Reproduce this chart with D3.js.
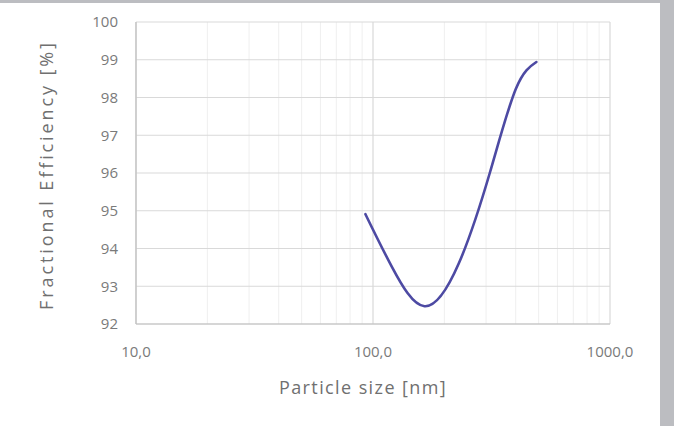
<!DOCTYPE html>
<html>
<head>
<meta charset="utf-8">
<script src="https://cdn.jsdelivr.net/npm/d3@7"></script>
<style>
  body { margin: 0; background: #fff; }
  svg { display: block; }
</style>
</head>
<body>
<svg id="chart" width="674" height="426"></svg>
<script>
// particle size [nm] and fractional efficiency [%]
const sizes = [92.9, 120, 165, 230, 311, 400, 489];
const efficiency = [94.91, 93.52, 92.47, 93.6, 96.0, 98.22, 98.94];
const yTicks = [92, 93, 94, 95, 96, 97, 98, 99, 100];
const xTicks = [10, 100, 1000];

const svg = d3.select('#chart');
const W = 674, H = 426;
const margin = { top: 22, right: 64, bottom: 102, left: 136 };
const innerWidth = W - margin.left - margin.right;
const innerHeight = H - margin.top - margin.bottom;

// grey frame of the screenshot
svg.append('rect').attr('x', 0).attr('y', 0).attr('width', W).attr('height', 3).attr('fill', '#bcbdc1');
svg.append('rect').attr('x', 660).attr('y', 0).attr('width', 14).attr('height', H).attr('fill', '#bcbdc1');

const x = d3.scaleLog().domain([10, 1000]).range([0, innerWidth]);
const y = d3.scaleLinear().domain([92, 100]).range([innerHeight, 0]);

const g = svg.append('g').attr('transform', `translate(${margin.left},${margin.top})`);

// minor vertical grid
const minor = [];
[10, 100].forEach(d => { for (let k = 2; k <= 9; k++) minor.push(d * k); });
g.append('g').selectAll('line').data(minor).join('line')
  .attr('x1', d => x(d)).attr('x2', d => x(d))
  .attr('y1', 0).attr('y2', innerHeight)
  .attr('stroke', '#efefef').attr('stroke-width', 1);

// horizontal grid
g.append('g').selectAll('line').data(yTicks).join('line')
  .attr('x1', 0).attr('x2', innerWidth)
  .attr('y1', d => y(d)).attr('y2', d => y(d))
  .attr('stroke', '#d9d9d9').attr('stroke-width', 1);

// major vertical grid
g.append('g').selectAll('line').data(xTicks).join('line')
  .attr('x1', d => x(d)).attr('x2', d => x(d))
  .attr('y1', 0).attr('y2', innerHeight)
  .attr('stroke', '#d9d9d9').attr('stroke-width', 1.2);

// axes lines
g.append('line').attr('x1', 0).attr('x2', 0).attr('y1', 0).attr('y2', innerHeight)
  .attr('stroke', '#bfbfbf').attr('stroke-width', 1.2);
g.append('line').attr('x1', 0).attr('x2', innerWidth).attr('y1', innerHeight).attr('y2', innerHeight)
  .attr('stroke', '#bfbfbf').attr('stroke-width', 1.2);

const font = 'Open Sans, Noto Sans, sans-serif';

// y tick labels
g.append('g').selectAll('text').data(yTicks).join('text')
  .attr('x', -18).attr('y', d => y(d)).attr('dy', '0.36em')
  .attr('text-anchor', 'end')
  .attr('font-family', font).attr('font-size', 15).attr('fill', '#7a7a7a')
  .text(d => d);

// x tick labels
g.append('g').selectAll('text').data(xTicks).join('text')
  .attr('x', d => x(d)).attr('y', innerHeight + 28).attr('dy', '0.36em')
  .attr('text-anchor', 'middle')
  .attr('font-family', font).attr('font-size', 15).attr('fill', '#7a7a7a')
  .text(d => d3.format('.1f')(d).replace('.', ','));

// line
const pts = sizes.map((s, i) => [s, efficiency[i]]);
g.append('path').datum(pts)
  .attr('fill', 'none')
  .attr('stroke', '#4d4aa3')
  .attr('stroke-width', 2.6)
  .attr('stroke-linecap', 'round')
  .attr('d', d3.line().x(d => x(d[0])).y(d => y(d[1])).curve(d3.curveNatural));

// axis titles
svg.append('text')
  .attr('x', 363).attr('y', 388).attr('dy', '0.35em')
  .attr('text-anchor', 'middle')
  .attr('font-family', font).attr('font-size', 18).attr('letter-spacing', 1.4)
  .attr('fill', '#707070')
  .text('Particle size [nm]');

svg.append('text')
  .attr('transform', 'translate(47,175) rotate(-90)')
  .attr('dy', '0.35em')
  .attr('text-anchor', 'middle')
  .attr('font-family', font).attr('font-size', 18).attr('letter-spacing', 2.9)
  .attr('fill', '#707070')
  .text('Fractional Efficiency [%]');
</script>
</body>
</html>
